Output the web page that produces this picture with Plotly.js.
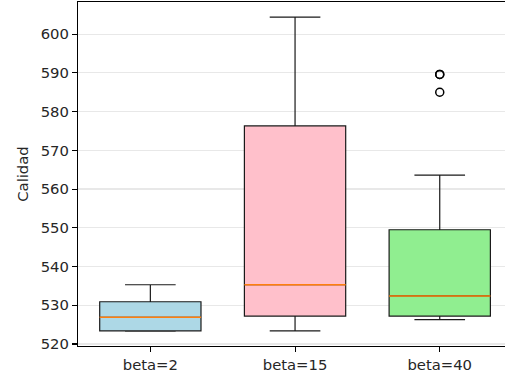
<!DOCTYPE html>
<html>
<head>
<meta charset="utf-8">
<script src="https://cdn.plot.ly/plotly-3.0.1.min.js"></script>
<style>
html,body{margin:0;padding:0;overflow:hidden;background:#fff;width:505px;height:377px;}
#chart{width:505px;height:377px;}
</style>
</head>
<body>
<div id="chart"></div>
<script>
// Data
var categories = ["beta=2", "beta=15", "beta=40"];
var positions = [1, 2, 3];
var lowerWhisker = [523.3, 523.4, 526.3];
var q1Values = [523.4, 527.2, 527.2];
var medianValues = [526.9, 535.3, 532.4];
var q3Values = [530.9, 576.3, 549.5];
var upperWhisker = [535.3, 604.4, 563.6];
var boxColors = ["#add8e6", "#ffc0cb", "#90ee90"];
var outlierGroup = [3, 3, 3];
var outlierValues = [589.6, 589.6, 585.0];
var yTicks = [520, 530, 540, 550, 560, 570, 580, 590, 600];

var boxWidth = 0.7;
var traces = [];
for (var i = 0; i < categories.length; i++) {
  traces.push({
    type: "box",
    x: [positions[i]],
    q1: [q1Values[i]],
    median: [medianValues[i]],
    q3: [q3Values[i]],
    lowerfence: [lowerWhisker[i]],
    upperfence: [upperWhisker[i]],
    width: boxWidth,
    whiskerwidth: 0.5,
    fillcolor: boxColors[i],
    line: {color: "#1a1a1a", width: 1.2},
    boxpoints: false,
    hoverinfo: "skip",
    showlegend: false
  });
}
// median lines in orange
var mx = [], my = [];
for (var j = 0; j < categories.length; j++) {
  mx.push(positions[j] - boxWidth / 2, positions[j] + boxWidth / 2, null);
  my.push(medianValues[j], medianValues[j], null);
}
traces.push({
  type: "scatter", mode: "lines", x: mx, y: my,
  line: {color: "#ff7f0e", width: 1.5},
  hoverinfo: "skip", showlegend: false
});
// outliers
traces.push({
  type: "scatter", mode: "markers", x: outlierGroup, y: outlierValues,
  marker: {symbol: "circle-open", size: 8, color: "#000000", line: {width: 1.5, color: "#000000"}},
  hoverinfo: "skip", showlegend: false
});

var font = {family: "DejaVu Sans, sans-serif", size: 14.8, color: "#262626"};
var layout = {
  width: 505, height: 377,
  margin: {l: 78, r: 0, t: 2, b: 31, pad: 0},
  paper_bgcolor: "#ffffff", plot_bgcolor: "#ffffff",
  font: font,
  showlegend: false,
  xaxis: {
    range: [0.5, 3.451], tickvals: positions, ticktext: categories,
    showgrid: false, zeroline: false, showline: true, mirror: true,
    linecolor: "#000000", linewidth: 1.1,
    ticks: "outside", ticklen: 5, tickwidth: 1.1, tickcolor: "#000000",
    tickfont: font
  },
  yaxis: {
    range: [519.48, 608.3], tickvals: yTicks,
    showgrid: true, gridcolor: "#e8e8e8", gridwidth: 1.2,
    zeroline: false, showline: true, mirror: false,
    linecolor: "#000000", linewidth: 1.1,
    ticks: "outside", ticklen: 5, tickwidth: 1.1, tickcolor: "#000000",
    tickfont: font,
    title: {text: "Calidad", font: font, standoff: 8}
  }
};
Plotly.newPlot("chart", traces, layout, {staticPlot: true, displayModeBar: false});
</script>
</body>
</html>
